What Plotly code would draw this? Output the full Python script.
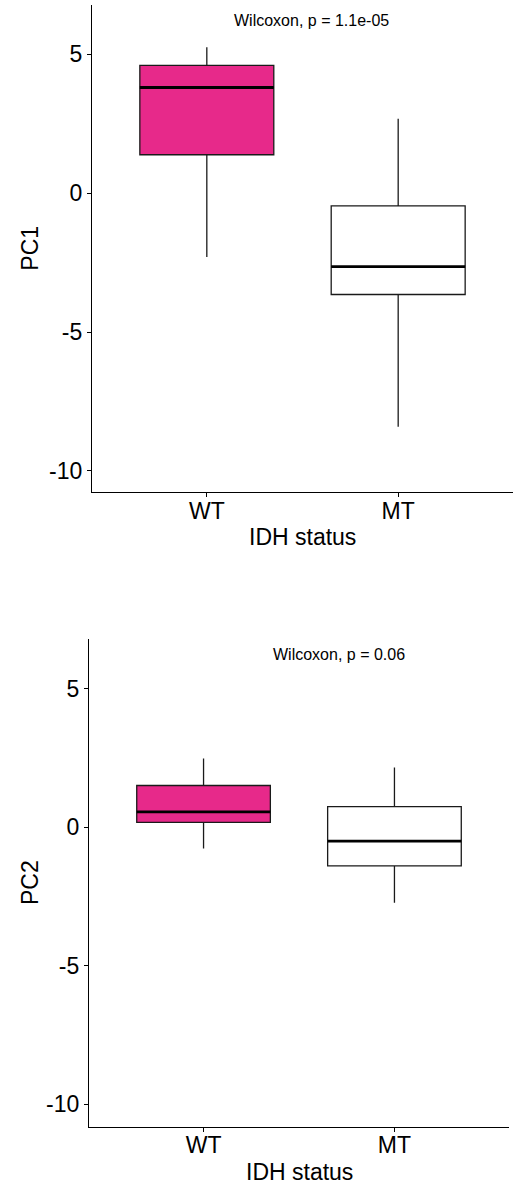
import plotly.graph_objects as go

# ---- data ----
categories = ["WT", "MT"]
cat_pos = [1, 2]

pc1_lower = [-2.30, -8.41]
pc1_q1 = [1.38, -3.65]
pc1_median = [3.80, -2.65]
pc1_q3 = [4.60, -0.46]
pc1_upper = [5.25, 2.68]

pc2_lower = [-0.76, -2.72]
pc2_q1 = [0.18, -1.39]
pc2_median = [0.56, -0.50]
pc2_q3 = [1.51, 0.75]
pc2_upper = [2.49, 2.16]

pvalue_labels = ["Wilcoxon, p = 1.1e-05", "Wilcoxon, p = 0.06"]
y_titles = ["PC1", "PC2"]
x_title = "IDH status"
y_tick_vals = [-10, -5, 0, 5]
y_tick_text = ["-10", "-5", "0", "5"]

# ---- style ----
fill_colors = ["#E7298A", "#FFFFFF"]
box_width = 0.7
FONT = "Liberation Sans, Arial, Helvetica, sans-serif"
W, H = 524, 1189

fig = go.Figure()

panels = [
    dict(lower=pc1_lower, q1=pc1_q1, med=pc1_median, q3=pc1_q3, upper=pc1_upper,
         xa="x", ya="y", label=pvalue_labels[0], lx=1.548, ly=6.21,
         xdom=[92 / W, 513 / W], ydom=[1 - 492.3 / H, 1 - 5 / H], yr=[-10.77, 6.77],
         ytitle=y_titles[0]),
    dict(lower=pc2_lower, q1=pc2_q1, med=pc2_median, q3=pc2_q3, upper=pc2_upper,
         xa="x2", ya="y2", label=pvalue_labels[1], lx=1.71, ly=6.25,
         xdom=[89 / W, 509 / W], ydom=[1 - 1126.7 / H, 1 - 639.3 / H], yr=[-10.81, 6.79],
         ytitle=y_titles[1]),
]

for p in panels:
    for i, cat in enumerate(categories):
        fig.add_trace(go.Box(
            x=[cat_pos[i]], q1=[p["q1"][i]], median=[p["med"][i]], q3=[p["q3"][i]],
            lowerfence=[p["lower"][i]], upperfence=[p["upper"][i]],
            width=box_width, whiskerwidth=0,
            fillcolor=fill_colors[i],
            line=dict(color="#1a1a1a", width=1.3),
            boxpoints=False, showlegend=False, hoverinfo="skip",
            xaxis=p["xa"], yaxis=p["ya"],
        ))
        # thick median bar (ggplot fatten)
        fig.add_trace(go.Scatter(
            x=[cat_pos[i] - box_width / 2, cat_pos[i] + box_width / 2],
            y=[p["med"][i], p["med"][i]],
            mode="lines", line=dict(color="black", width=2.8),
            showlegend=False, hoverinfo="skip",
            xaxis=p["xa"], yaxis=p["ya"],
        ))
    fig.add_annotation(
        x=p["lx"], y=p["ly"], xref=p["xa"], yref=p["ya"],
        text=p["label"], showarrow=False,
        font=dict(size=16, color="black", family=FONT),
        xanchor="center", yanchor="middle",
    )
    # axis titles (placed as in the reference)
    xd, yd = p["xdom"], p["ydom"]
    fig.add_annotation(
        x=(xd[0] + xd[1]) / 2, y=yd[0] - 45 / H, xref="paper", yref="paper",
        text=x_title, showarrow=False,
        font=dict(size=23, color="black", family=FONT),
        xanchor="center", yanchor="middle",
    )
    fig.add_annotation(
        x=30 / W, y=(yd[0] + yd[1]) / 2, xref="paper", yref="paper",
        text=p["ytitle"], showarrow=False, textangle=-90,
        font=dict(size=23, color="black", family=FONT),
        xanchor="center", yanchor="middle",
    )

axis_common = dict(
    showline=True, linecolor="black", linewidth=1.3,
    ticks="outside", ticklen=4, tickwidth=1.3, tickcolor="black",
    showgrid=False, zeroline=False,
    tickfont=dict(size=23, color="black", family=FONT),
)

x_extra = {}
try:
    go.layout.XAxis(ticklabelstandoff=-6)
    x_extra = dict(ticklabelstandoff=-6)
except Exception:
    x_extra = {}

layout_axes = {}
for k, p in enumerate(panels):
    sfx = "" if k == 0 else str(k + 1)
    layout_axes["xaxis" + sfx] = dict(
        domain=p["xdom"], range=[0.4, 2.6], tickvals=cat_pos, ticktext=categories,
        anchor="y" + sfx, **axis_common, **x_extra)
    layout_axes["yaxis" + sfx] = dict(
        domain=p["ydom"], range=p["yr"], tickvals=y_tick_vals, ticktext=y_tick_text,
        anchor="x" + sfx, **axis_common)

fig.update_layout(
    width=W, height=H,
    margin=dict(l=0, r=0, t=0, b=0),
    paper_bgcolor="white", plot_bgcolor="white",
    showlegend=False,
    **layout_axes,
)

fig.write_html(
    "out.html",
    config={"displayModeBar": False},
    post_script="document.body.style.margin='0px';document.body.style.overflow='hidden';",
)
